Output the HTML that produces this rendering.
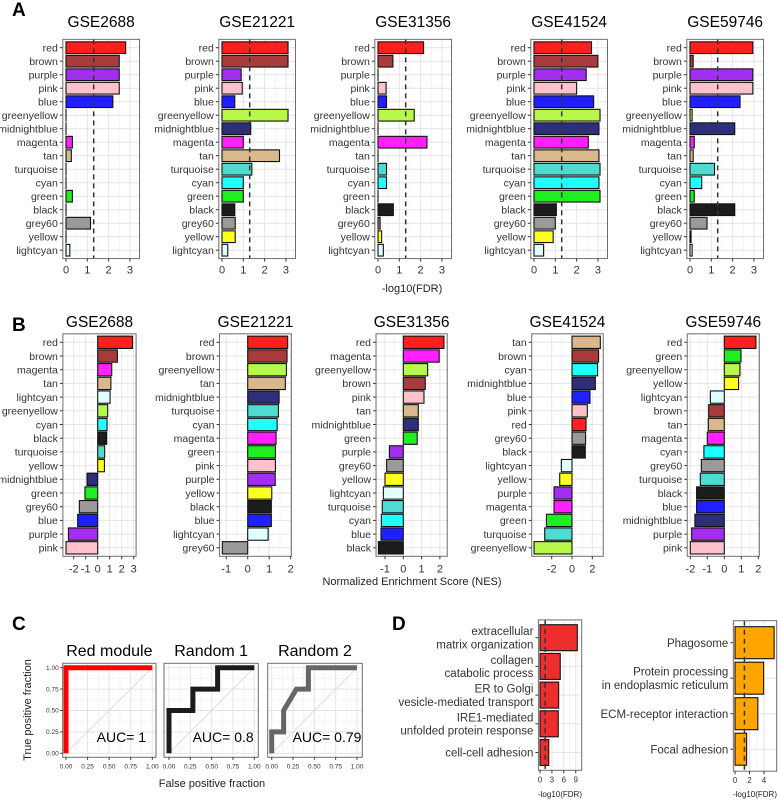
<!DOCTYPE html>
<html><head><meta charset="utf-8">
<style>
html,body{margin:0;padding:0;background:#fff;}
svg{display:block;font-family:"Liberation Sans",Arial,sans-serif;}
</style></head>
<body>
<svg id="fig" width="778" height="800" viewBox="0 0 778 800" xmlns="http://www.w3.org/2000/svg"></svg>
<script>
// ---------- Data ----------
const aCats = ["red","brown","purple","pink","blue","greenyellow","midnightblue","magenta","tan","turquoise","cyan","green","black","grey60","yellow","lightcyan"];
const aGSE2688  = [2.8,2.5,2.5,2.5,2.2,0,0,0.3,0.25,0,0,0.3,0,1.15,0,0.18];
const aGSE21221 = [3.1,3.1,0.9,0.95,0.6,3.1,1.35,1.0,2.7,1.4,1.0,1.0,0.6,0.62,0.62,0.27];
const aGSE31356 = [2.14,0.7,0,0.38,0.4,1.7,0,2.3,0,0.4,0.4,0,0.72,0.1,0.17,0.25];
const aGSE41524 = [2.7,3.0,2.45,2.0,2.8,3.1,3.05,2.55,3.05,3.1,3.05,3.1,1.05,1.0,0.9,0.45];
const aGSE59746 = [2.95,0.15,2.95,2.95,2.35,0.1,2.1,0.2,0.15,1.15,0.55,0.2,2.1,0.8,0.05,0.1];
const aTicks = [0,1,2,3];
const fdrCut = 1.3;

const bCats2688  = ["red","brown","magenta","tan","lightcyan","greenyellow","cyan","black","turquoise","yellow","midnightblue","green","grey60","blue","purple","pink"];
const bVals2688  = [2.9,1.64,1.17,1.1,1.03,0.83,0.78,0.75,0.58,0.56,-0.89,-1.06,-1.53,-1.67,-2.44,-2.64];
const bCats21221 = ["red","brown","greenyellow","tan","midnightblue","turquoise","cyan","magenta","green","pink","purple","yellow","black","blue","lightcyan","grey60"];
const bVals21221 = [1.86,1.83,1.8,1.75,1.46,1.43,1.37,1.32,1.29,1.29,1.28,1.12,1.1,1.1,0.95,-1.18];
const bCats31356 = ["red","magenta","greenyellow","brown","pink","tan","midnightblue","green","purple","grey60","yellow","lightcyan","turquoise","cyan","blue","black"];
const bVals31356 = [2.22,1.96,1.33,1.2,1.13,0.82,0.82,0.76,-0.76,-0.91,-1.0,-1.09,-1.15,-1.2,-1.22,-1.36];
const bCats41524 = ["tan","brown","cyan","midnightblue","blue","pink","red","grey60","black","lightcyan","yellow","purple","magenta","green","turquoise","greenyellow"];
const bVals41524 = [2.79,2.62,2.52,2.3,1.77,1.51,1.38,1.34,1.31,-1.05,-1.21,-1.77,-1.77,-2.52,-2.69,-3.74];
const bCats59746 = ["red","green","greenyellow","yellow","lightcyan","brown","tan","magenta","cyan","grey60","turquoise","black","blue","midnightblue","purple","pink"];
const bVals59746 = [1.86,0.98,0.92,0.84,-0.82,-0.92,-0.94,-1.0,-1.2,-1.35,-1.41,-1.63,-1.63,-1.73,-1.92,-2.0];

const rocRedFpr = [0,0,1];
const rocRedTpr = [0,1,1];
const rocR1Fpr = [0,0,0.28,0.28,0.57,0.57,1];
const rocR1Tpr = [0,0.5,0.5,0.75,0.75,1,1];
const rocR2Fpr = [0,0,0.14,0.14,0.29,0.43,0.43,1];
const rocR2Tpr = [0,0.25,0.25,0.5,0.75,0.75,1,1];
const rocTicks = [0,0.25,0.5,0.75,1];
const aucLabels = ["AUC= 1","AUC= 0.8","AUC= 0.79"];

const goTerms = [["extracellular","matrix organization"],["collagen","catabolic process"],["ER to Golgi","vesicle-mediated transport"],["IRE1-mediated","unfolded protein response"],["cell-cell adhesion"]];
const goVals = [9.4,5.1,4.7,4.6,2.2];
const goTicks = [0,3,6,9];
const keggTerms = [["Phagosome"],["Protein processing","in endoplasmic reticulum"],["ECM-receptor interaction"],["Focal adhesion"]];
const keggVals = [5.4,3.95,3.15,1.6];
const keggTicks = [0,2,4];

const COL = {red:"#ff1f1f",brown:"#a83c3c",purple:"#a22ef0",pink:"#ffc2cc",blue:"#1f1fff",greenyellow:"#b8f84a",
  midnightblue:"#2d2f7a",magenta:"#ff1fff",tan:"#d8b88c",turquoise:"#4fdcd0",cyan:"#1fffff",green:"#1fef1f",
  black:"#1c1c1c",grey60:"#9a9a9a",yellow:"#ffff1f",lightcyan:"#e2ffff"};

// ---------- helpers ----------
const NS="http://www.w3.org/2000/svg";
const svg=document.getElementById("fig");
function mk(tag,attrs,parent){const e=document.createElementNS(NS,tag);for(const k in attrs)e.setAttribute(k,attrs[k]);(parent||svg).appendChild(e);return e;}
function txt(s,x,y,size,anchor,parent,fill,weight){const t=mk("text",{x:x,y:y,"font-size":size,"text-anchor":anchor||"middle",fill:fill||"#000"},parent);if(weight)t.setAttribute("font-weight",weight);t.textContent=s;return t;}

function barPanel(name,cats,vals,cfg,colors){
  const g=mk("g",{});
  
  
  const sx=v=>cfg.zeroX+v*cfg.ppu;
  const L=sx(cfg.xmin),R=sx(cfg.xmax);
  const T=cfg.c0-0.62*cfg.sp,B=cfg.c0+(cats.length-1)*cfg.sp+0.62*cfg.sp;
  const bg=mk("rect",{x:L,y:T,width:R-L,height:B-T,fill:"#fff"},g);
  
  
  for(let i=0;i<cfg.ticks.length-1;i++){const m=(cfg.ticks[i]+cfg.ticks[i+1])/2;mk("line",{x1:sx(m),x2:sx(m),y1:T,y2:B,stroke:"#f2f2f2","stroke-width":0.8},g);}
  cfg.ticks.forEach(t=>mk("line",{x1:sx(t),x2:sx(t),y1:T,y2:B,stroke:"#e4e4e4","stroke-width":1},g));
  cats.forEach((c,i)=>{const y=cfg.c0+i*cfg.sp;mk("line",{x1:L,x2:R,y1:y,y2:y,stroke:"#e4e4e4","stroke-width":1},g);});
  cats.forEach((c,i)=>{
    const y=cfg.c0+i*cfg.sp,v=vals[i];
    const x0=sx(Math.min(0,v)),w=Math.abs(sx(v)-sx(0));
    const r=mk("rect",{x:x0,y:y-cfg.bh/2,width:Math.max(w,0.01),height:cfg.bh,fill:colors?colors[i]:COL[c],stroke:"#111","stroke-width":1.1},g);
    
    
    mk("line",{x1:L-3,x2:L,y1:y,y2:y,stroke:"#333","stroke-width":1},g);
    const lines=Array.isArray(c)?c:[c];
    const fs=cfg.labelSize||10.5;
    lines.forEach((ln,j)=>{
      const ly=y+fs*0.36+(j-(lines.length-1)/2)*fs*1.15;
      const t=txt(ln,L-5,ly,fs,"end",g,"#333");
      
      
    });
  });
  if(cfg.dash!==undefined){
    const d=mk("line",{x1:sx(cfg.dash),x2:sx(cfg.dash),y1:T,y2:B,stroke:"#333","stroke-width":1.5,"stroke-dasharray":"5,4"},g);
    
    
  }
  mk("rect",{x:L,y:T,width:R-L,height:B-T,fill:"none",stroke:"#6e6e6e","stroke-width":1},g);
  cfg.ticks.forEach(t=>{
    mk("line",{x1:sx(t),x2:sx(t),y1:B,y2:B+3,stroke:"#333","stroke-width":1},g);
    const tl=txt(String(t),sx(t),B+cfg.tickDy,cfg.tickSize||11,"middle",g,"#333");
    
    
  });
  if(cfg.title){
    const tt=txt(cfg.title,(L+R)/2,cfg.titleY,15.5,"middle",g,"#000");
    
    
  }
  return g;
}

// ---------- Panel A ----------
const aSets=[["GSE2688",aGSE2688,66],["GSE21221",aGSE21221,222],["GSE31356",aGSE31356,378],["GSE41524",aGSE41524,534],["GSE59746",aGSE59746,690]];
aSets.forEach(s=>barPanel("fdr-chart-"+s[0],aCats,s[1],{zeroX:s[2],ppu:21.3,xmin:-0.15,xmax:3.45,c0:47.7,sp:13.5,bh:11.7,ticks:aTicks,tickDy:15,dash:fdrCut,title:s[0],titleY:27}));
let t;
t=txt("A",12,16,19,"start",svg,"#000","bold");


t=txt("-log10(FDR)",412,292,11,"middle",svg,"#222");



// ---------- Panel B ----------
const bSets=[["GSE2688",bCats2688,bVals2688,97.7,12,-2.9,3.2,[-2,-1,0,1,2,3]],
 ["GSE21221",bCats21221,bVals21221,247.7,21.5,-1.31,2.03,[-1,0,1,2]],
 ["GSE31356",bCats31356,bVals31356,403.3,18.3,-1.49,2.4,[-1,0,1,2]],
 ["GSE41524",bCats41524,bVals41524,572,10.15,-3.97,3.08,[-2,0,2]],
 ["GSE59746",bCats59746,bVals59746,724.3,17,-2.18,2.06,[-2,-1,0,1,2]]];
bSets.forEach(s=>barPanel("nes-chart-"+s[0],s[1],s[2],{zeroX:s[3],ppu:s[4],xmin:s[5],xmax:s[6],c0:342.3,sp:13.7,bh:12.3,ticks:s[7],tickDy:16,title:s[0],titleY:327}));
t=txt("B",12,331,19,"start",svg,"#000","bold");


t=txt("Normalized Enrichment Score (NES)",412,585,11,"middle",svg,"#222");



// ---------- Panel C ----------
function roc(name,L,R,T,B,X0,X1,Y0,Y1,fpr,tpr,color,title,auc,showY){
  const g=mk("g",{});
  
  
  const sx=v=>X0+v*(X1-X0), sy=v=>Y0+v*(Y1-Y0);
  mk("rect",{x:L,y:T,width:R-L,height:B-T,fill:"#fff"},g);
  for(let i=0;i<rocTicks.length-1;i++){const m=(rocTicks[i]+rocTicks[i+1])/2;
    mk("line",{x1:sx(m),x2:sx(m),y1:T,y2:B,stroke:"#f2f2f2","stroke-width":0.8},g);
    mk("line",{x1:L,x2:R,y1:sy(m),y2:sy(m),stroke:"#f2f2f2","stroke-width":0.8},g);}
  rocTicks.forEach(v=>{mk("line",{x1:sx(v),x2:sx(v),y1:T,y2:B,stroke:"#e4e4e4"},g);mk("line",{x1:L,x2:R,y1:sy(v),y2:sy(v),stroke:"#e4e4e4"},g);});
  mk("line",{x1:sx(0),y1:sy(0),x2:sx(1),y2:sy(1),stroke:"#dcdcdc","stroke-width":1},g);
  const pts=fpr.map((f,i)=>sx(f)+","+sy(tpr[i])).join(" ");
  const pl=mk("polyline",{points:pts,fill:"none",stroke:color,"stroke-width":5,"stroke-linejoin":"miter"},g);
  
  
  mk("rect",{x:L,y:T,width:R-L,height:B-T,fill:"none",stroke:"#6e6e6e"},g);
  rocTicks.forEach(v=>{
    mk("line",{x1:sx(v),x2:sx(v),y1:B,y2:B+2.5,stroke:"#333"},g);
    txt(v.toFixed(2),sx(v),B+11,6.5,"middle",g,"#333");
    if(showY){mk("line",{x1:L-2.5,x2:L,y1:sy(v),y2:sy(v),stroke:"#333"},g);txt(v.toFixed(2),L-4,sy(v)+2.2,6.5,"end",g,"#333");}
  });
  const tt=txt(title,(L+R)/2,656,16,"middle",g,"#000");
  
  
  const at=txt(auc,(L+R)/2+12,742,14,"middle",g,"#000");
  
  
}
roc("roc-red-module",62.7,156,663.3,757.3,66,152.3,753.3,667.7,rocRedFpr,rocRedTpr,"#ff0000","Red module",aucLabels[0],true);
roc("roc-random-1",164,258.3,663.3,757.3,169,254.3,753.3,667.7,rocR1Fpr,rocR1Tpr,"#1c1c1c","Random 1",aucLabels[1],false);
roc("roc-random-2",267.7,362.3,663.3,757.3,271.7,357,753.3,667.7,rocR2Fpr,rocR2Tpr,"#666666","Random 2",aucLabels[2],false);
t=txt("C",12,630,19,"start",svg,"#000","bold");


t=txt("False positive fraction",212,787,11,"middle",svg,"#222");


t=txt("True positive fraction",0,0,11,"middle",svg,"#222");
t.setAttribute("transform","translate(31,710) rotate(-90)");



// ---------- Panel D ----------
const goCol=goVals.map(()=>"#ee2d2d");
barPanel("go-enrichment-chart",goTerms,goVals,{zeroX:540,ppu:3.97,xmin:-0.4,xmax:10.5,c0:637.7,sp:28.7,bh:26,ticks:goTicks,tickDy:12,tickSize:8,dash:fdrCut,labelSize:11.5},goCol);
const kCol=keggVals.map(()=>"#ffa500");
barPanel("kegg-enrichment-chart",keggTerms,keggVals,{zeroX:735,ppu:7.25,xmin:-0.23,xmax:5.75,c0:642.7,sp:35.5,bh:32,ticks:keggTicks,tickDy:12,tickSize:8,dash:fdrCut,labelSize:11.5},kCol);
t=txt("D",392,630,19,"start",svg,"#000","bold");


t=txt("-log10(FDR)",560,797,8,"middle",svg,"#222");


t=txt("-log10(FDR)",755,797,8,"middle",svg,"#222");


</script>
</body></html>
